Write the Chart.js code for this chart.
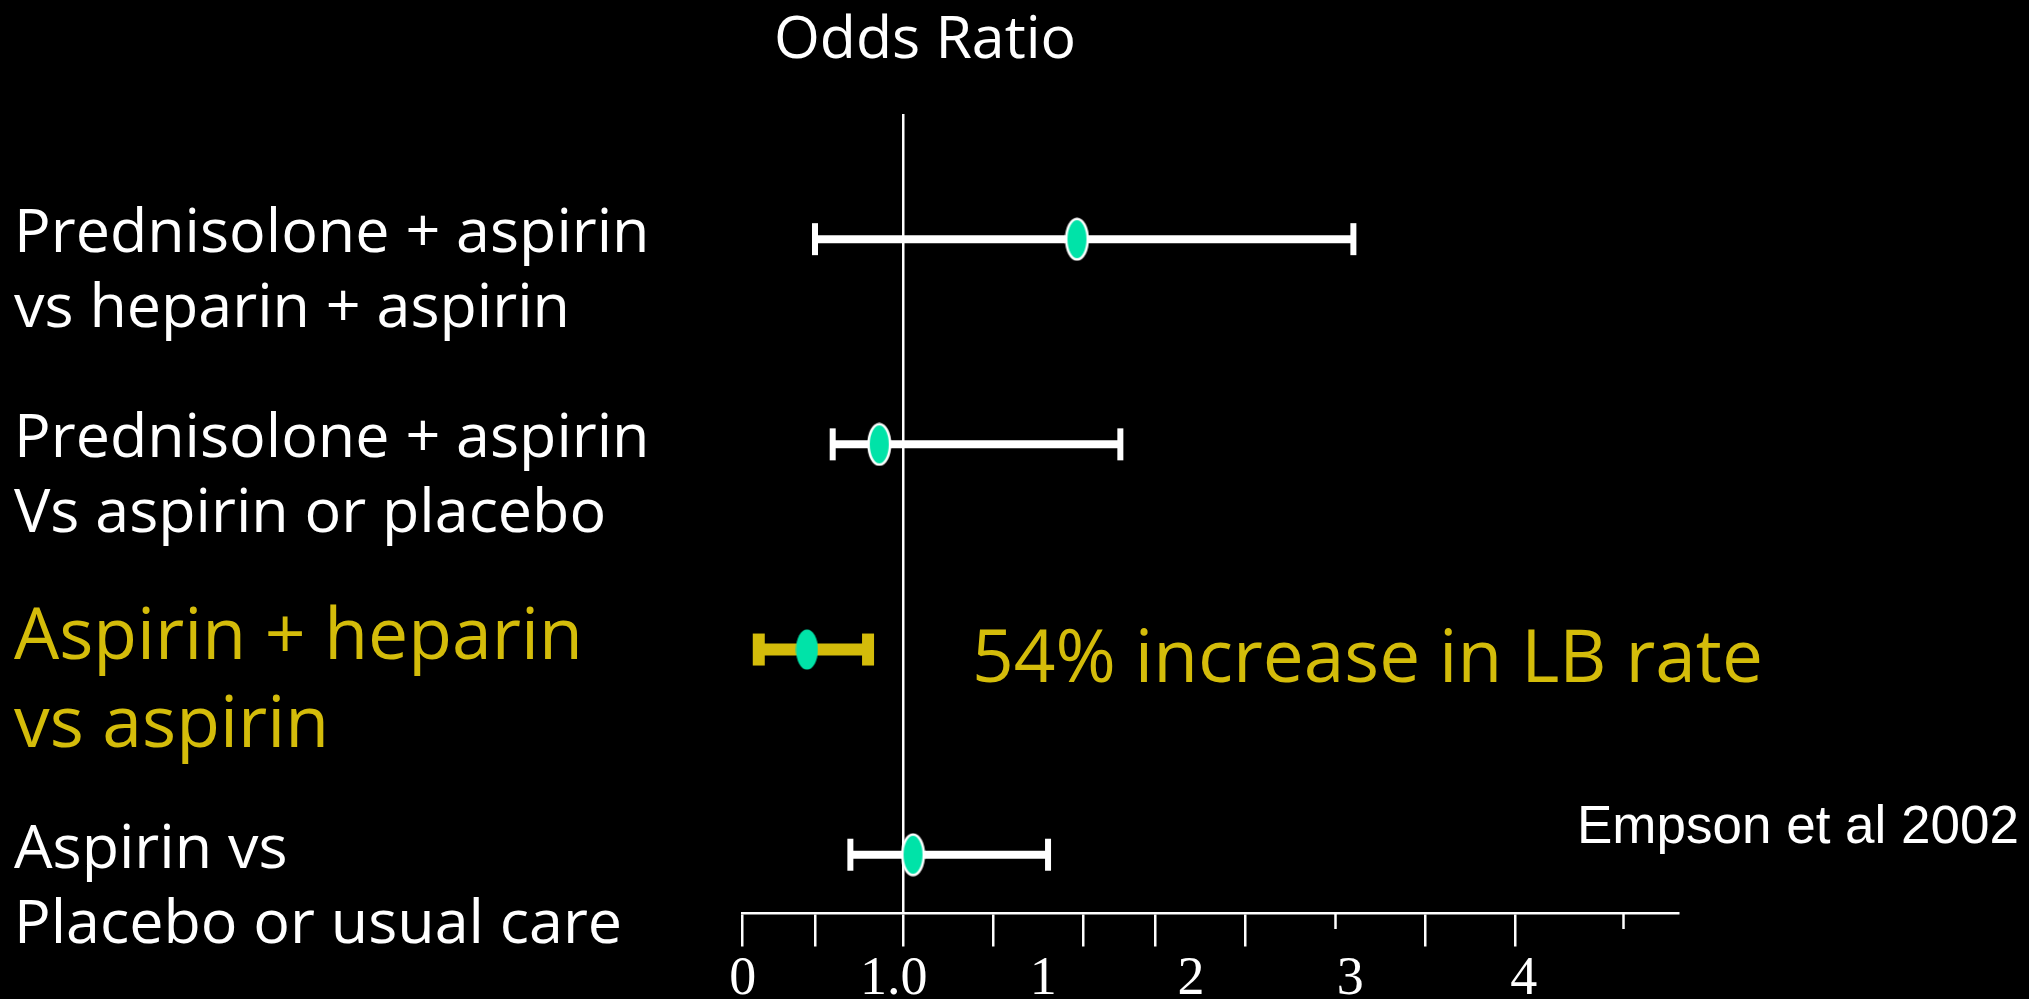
<!DOCTYPE html>
<html>
<head>
<meta charset="utf-8">
<title>Odds Ratio</title>
<script src="https://cdn.jsdelivr.net/npm/chart.js@4/dist/chart.umd.min.js"></script>
<style>
  html, body { margin: 0; padding: 0; background: #000; }
  #wrap { position: relative; width: 2029px; height: 999px; }
</style>
</head>
<body>
<div id="wrap"><canvas id="chart"></canvas></div>
<script>
// Comparisons, one per row, top to bottom
const comparisons = [
  ["Prednisolone + aspirin", "vs heparin + aspirin"],
  ["Prednisolone + aspirin", "Vs aspirin or placebo"],
  ["Aspirin + heparin", "vs aspirin"],
  ["Aspirin vs", "Placebo or usual care"]
];
// Odds ratio estimates with lower / upper confidence limits
const estimate = [2.08, 0.85, 0.40, 1.06];
const lowerCI  = [0.45, 0.56, 0.10, 0.67];
const upperCI  = [3.80, 2.35, 0.78, 1.90];
const highlighted = [false, false, true, false];

// Bottom axis: long and short tick marks, and the printed tick labels
const longTicks  = [0, 0.45, 1, 1.56, 2.12, 2.57, 3.13, 4.25, 4.81];
const shortTicks = [3.69, 5.48];
const tickLabels = ["0", "1.0", "1", "2", "3", "4"];
const tickLabelValues = [0, 0.94, 1.87, 2.79, 3.78, 4.86];

const axisTitle = "Odds Ratio";
const findingText = "54% increase in LB rate";
const sourceText = "Empson et al 2002";

const WHITE = "#ffffff";
const YELLOW = "#d4bc0a";
const GREEN = "#00e3a8";
const SANS = "'Open Sans', 'Noto Sans', sans-serif";
const SERIF = "'Liberation Serif', 'Times New Roman', serif";

const X_MAX = 5.82;
const Y_MIN = -0.61, Y_MAX = 3.284;

// Oval marker used for the point estimates
function ovalMarker(w, h, fill, stroke, lw) {
  const c = document.createElement('canvas');
  c.width = w; c.height = h;
  const g = c.getContext('2d');
  g.beginPath();
  g.ellipse(w / 2, h / 2, w / 2 - lw / 2 - 0.5, h / 2 - lw / 2 - 0.5, 0, 0, Math.PI * 2);
  g.fillStyle = fill;
  g.fill();
  if (lw > 0) { g.lineWidth = lw; g.strokeStyle = stroke; g.stroke(); }
  return c;
}
const ovalOutlined = ovalMarker(25, 44, GREEN, WHITE, 2.5);
const ovalPlain = ovalMarker(23, 41, GREEN, WHITE, 0);

// One whisker line per comparison: lower limit, estimate, upper limit
const datasets = estimate.map((est, i) => {
  const hl = highlighted[i];
  const col = hl ? YELLOW : WHITE;
  const capW = hl ? 12 : 6;
  return {
    type: 'line',
    xAxisID: 'x',
    yAxisID: 'y',
    data: [{ x: lowerCI[i], y: i }, { x: est, y: i }, { x: upperCI[i], y: i }],
    borderColor: col,
    borderWidth: hl ? 12 : 8,
    borderCapStyle: 'butt',
    tension: 0,
    pointStyle: ['line', hl ? ovalPlain : ovalOutlined, 'line'],
    pointRotation: [90, 0, 90],
    pointRadius: [16, 12, 16],
    pointBorderWidth: [capW, 0, capW],
    pointBorderColor: col,
    pointBackgroundColor: col,
    clip: false
  };
});

// Free-standing slide text: axis title, finding and source
const slideText = {
  id: 'slideText',
  afterDraw(chart) {
    const ctx = chart.ctx;
    ctx.save();
    ctx.textBaseline = 'alphabetic';
    ctx.fillStyle = WHITE;
    ctx.textAlign = 'center';
    ctx.font = `59px ${SANS}`;
    ctx.fillText(axisTitle, 925, 58);

    ctx.textAlign = 'left';
    ctx.fillStyle = YELLOW;
    ctx.font = `73px ${SANS}`;
    ctx.fillText(findingText, 972, 682);

    ctx.fillStyle = WHITE;
    ctx.font = `53px 'Liberation Sans', Arial, sans-serif`;
    ctx.fillText(sourceText, 1577, 843);
    ctx.restore();
  }
};

const noLine = 'rgba(0,0,0,0)';

new Chart(document.getElementById('chart'), {
  type: 'line',
  data: { datasets },
  options: {
    responsive: true,
    maintainAspectRatio: false,
    animation: false,
    events: [],
    layout: { padding: { left: 14, right: 351, top: 114, bottom: 86 } },
    plugins: {
      legend: { display: false },
      tooltip: { enabled: false },
      title: { display: false }
    },
    scales: {
      x: {
        type: 'linear', axis: 'x', min: 0, max: X_MAX,
        position: { y: Y_MAX },
        afterBuildTicks: s => { s.ticks = longTicks.map(v => ({ value: v })); },
        ticks: { display: false },
        grid: {
          display: true, drawOnChartArea: true, drawTicks: true, tickLength: 32,
          color: c => (c.tick && c.tick.value === 1) ? WHITE : noLine,
          lineWidth: 2.5, tickColor: WHITE, tickWidth: 2.5
        },
        border: { display: true, color: WHITE, width: 2.5 }
      },
      xs: {
        type: 'linear', axis: 'x', min: 0, max: X_MAX,
        position: { y: Y_MAX },
        afterBuildTicks: s => { s.ticks = shortTicks.map(v => ({ value: v })); },
        ticks: { display: false },
        grid: {
          display: true, drawOnChartArea: false, drawTicks: true, tickLength: 16,
          color: noLine, tickColor: WHITE, tickWidth: 2.5
        },
        border: { display: false }
      },
      xl: {
        type: 'linear', axis: 'x', min: 0, max: X_MAX,
        position: { y: Y_MAX },
        afterBuildTicks: s => { s.ticks = tickLabelValues.map(v => ({ value: v })); },
        ticks: {
          display: true, autoSkip: false, maxRotation: 0, minRotation: 0,
          padding: 40, color: WHITE,
          font: { family: SERIF, size: 54, lineHeight: 1 },
          callback: (v, i) => tickLabels[i]
        },
        grid: { display: false, drawTicks: false },
        border: { display: false }
      },
      y: {
        type: 'linear', axis: 'y', position: 'left',
        min: Y_MIN, max: Y_MAX, reverse: true,
        afterBuildTicks: s => { s.ticks = comparisons.map((_, i) => ({ value: i })); },
        afterFit: s => { s.width = 728.7; },
        ticks: {
          autoSkip: false, crossAlign: 'far', padding: 0, labelOffset: 33,
          callback: (v, i) => comparisons[i],
          color: c => highlighted[c.index] ? YELLOW : WHITE,
          font: c => highlighted[c.index]
            ? { family: SANS, size: 71.5, lineHeight: '88px' }
            : { family: SANS, size: 61, lineHeight: '75px' }
        },
        grid: { display: false },
        border: { display: false }
      }
    }
  },
  plugins: [slideText]
});
</script>
</body>
</html>
